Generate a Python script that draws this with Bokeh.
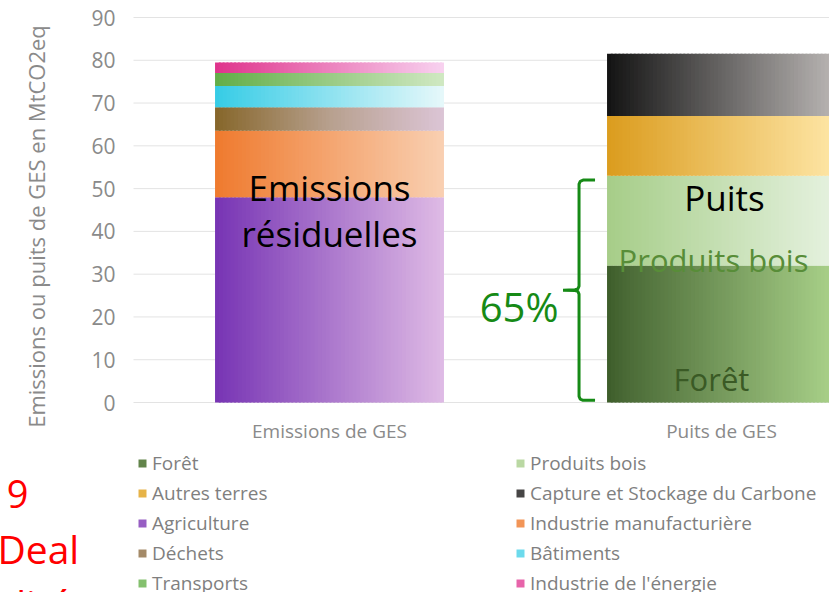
import numpy as np
from bokeh.plotting import figure
from bokeh.models import Range1d, Label, Legend, LegendItem
from bokeh.core.properties import value
from bokeh.embed import file_html
from bokeh.resources import INLINE

# ---------------- data ----------------
categories = ["Emissions de GES", "Puits de GES"]
emission_sectors = ["Agriculture", "Industrie manufacturière", "Déchets",
                    "Bâtiments", "Transports", "Industrie de l'énergie"]
emission_values = [48.0, 15.5, 5.5, 5.0, 3.0, 2.5]
sink_sectors = ["Forêt", "Produits bois", "Autres terres",
                "Capture et Stockage du Carbone"]
sink_values = [32.0, 21.0, 14.0, 14.5]
y_ticks = [0, 10, 20, 30, 40, 50, 60, 70, 80, 90]
y_tick_labels = ["0", "10", "20", "30", "40", "50", "60", "70", "80", "90"]
# legend fills column by column (2 columns x 5 rows)
legend_order = ["Forêt", "Autres terres", "Agriculture", "Déchets", "Transports",
                "Produits bois", "Capture et Stockage du Carbone",
                "Industrie manufacturière", "Bâtiments", "Industrie de l'énergie"]
share_text = "65%"

# ---------------- styles ----------------
grad = {
    "Agriculture": [(0, "#7734b4"), (1, "#dfbbe5")],
    "Industrie manufacturière": [(0, "#ef7a2e"), (1, "#f9d0b2")],
    "Déchets": [(0, "#86662a"), (0.5, "#b7a08e"), (1, "#dcc5d6")],
    "Bâtiments": [(0, "#36cce6"), (1, "#e6f8fa")],
    "Transports": [(0, "#62ae48"), (1, "#d0e8c2")],
    "Industrie de l'énergie": [(0, "#df338b"), (1, "#f8d2f0")],
    "Forêt": [(0, "#3d5d2a"), (0.08, "#4a6a36"), (1, "#aad28a")],
    "Produits bois": [(0, "#a6cd88"), (1, "#e6f2e0")],
    "Autres terres": [(0, "#db9c1e"), (1, "#fee6a6")],
    "Capture et Stockage du Carbone": [(0, "#131313"), (1, "#bab6b4")],
}
FONT = "Open Sans"
GRAY = "#8a8a8a"

W, H = 829, 592
# reference geometry: plot x origin (px) and 1 category = 392 px; y: 0 at 402 px, 90 at 17 px
X0_PX, PX_CAT = 133.0, 392.0
Y0_PX, PX_Y = 402.0, 385.0 / 90.0
BAR_W = 0.584


def px_x(px):
    return (px - X0_PX) / PX_CAT


def px_y(py):
    return (Y0_PX - py) / PX_Y


def hex2rgb(h):
    h = h.lstrip("#")
    return np.array([int(h[i:i + 2], 16) for i in (0, 2, 4)], dtype=float)


def color_at(stops, t):
    for (t0, c0), (t1, c1) in zip(stops[:-1], stops[1:]):
        if t <= t1:
            f = 0 if t1 == t0 else (t - t0) / (t1 - t0)
            c = hex2rgb(c0) * (1 - f) + hex2rgb(c1) * f
            return "#%02x%02x%02x" % tuple(int(round(v)) for v in c)
    return stops[-1][1]


p = figure(width=W, height=H,
           x_range=Range1d(px_x(0), px_x(W)), y_range=Range1d(px_y(H), px_y(0)),
           output_backend="svg", toolbar_location=None,
           x_axis_location=None, y_axis_location=None,
           min_border=0)
p.outline_line_color = None
p.background_fill_color = "white"
p.border_fill_color = "white"
p.xgrid.visible = False
p.ygrid.visible = False

# gridlines from the tick values
p.segment(x0=[px_x(X0_PX)] * len(y_ticks), x1=[px_x(W)] * len(y_ticks),
          y0=y_ticks, y1=y_ticks, line_color="#e3e3e3", line_width=1)

# y tick labels
p.text(x=[px_x(115)] * len(y_ticks), y=y_ticks, text=y_tick_labels,
       text_align="right", text_baseline="middle", text_font=value(FONT),
       text_font_size="21px", text_color=GRAY)

N = 60
renderers = {}


def gradient_bar(name, xc, bottom, top, stops):
    x0 = xc - BAR_W / 2
    step = BAR_W / N
    lefts = x0 + np.arange(N) * step
    rights = lefts + step * 1.5
    rights[-1] = x0 + BAR_W
    cols = [color_at(stops, (i + 0.5) / N) for i in range(N)]
    renderers[name] = p.quad(left=lefts, right=rights, bottom=[bottom] * N,
                             top=[top] * N, fill_color=cols, line_color=None)


cat_pos = [0.5, 1.5]

base = 0.0
for name, v in zip(emission_sectors, emission_values):
    gradient_bar(name, cat_pos[0], base, base + v, grad[name])
    base += v

base = 0.0
for name, v in zip(sink_sectors, sink_values):
    gradient_bar(name, cat_pos[1], base, base + v, grad[name])
    base += v

# category labels
p.text(x=cat_pos, y=[px_y(430)] * 2, text=categories, text_align="center",
       text_baseline="middle", text_font=value(FONT), text_font_size="19px",
       text_color=GRAY)

# y-axis title
p.add_layout(Label(x=px_x(35), y=px_y(226), text="Emissions ou puits de GES en MtCO2eq",
                   angle=np.pi / 2, text_align="center", text_baseline="middle",
                   text_font=FONT, text_font_size="22px", text_color=GRAY))

sink_fb = sink_values[0] + sink_values[1]


def lab(x, y, t, size, color, align="center"):
    p.add_layout(Label(x=x, y=y, text=t, text_align=align, text_baseline="alphabetic",
                       text_font=FONT, text_font_size=size, text_color=color))


# in-bar texts
lab(cat_pos[0], px_y(187), "Emissions", "35px", "black")
lab(cat_pos[0], px_y(233), "résiduelles", "35px", "black")
lab(px_x(724), px_y(197), "Puits", "35px", "black")
lab(px_x(713), px_y(259), "Produits bois", "31px", "#588d38")
lab(px_x(711), px_y(378), "Forêt", "31px", "#3a5a25")
lab(px_x(558), px_y(306), share_text, "40px", "#168a16", "right")

# brace spanning Forêt + Produits bois
bar_left = cat_pos[1] - BAR_W / 2
bx = bar_left - 28 / PX_CAT
hx = bar_left - 12 / PX_CAT
tx = bar_left - 44 / PX_CAT
rx = 4 / PX_CAT
ry = 4 / PX_Y
yb = 0.5
yt = sink_fb - 1.0
ym = (yb + yt) / 2
brace_x = [hx, bx + rx, bx + rx * 0.3, bx, bx, bx - rx * 0.3, bx - rx, tx,
           bx - rx, bx - rx * 0.3, bx, bx, bx + rx * 0.3, bx + rx, hx]
brace_y = [yt, yt, yt - ry * 0.3, yt - ry, ym + ry, ym + ry * 0.3, ym + ry * 0.1, ym,
           ym - ry * 0.1, ym - ry * 0.3, ym - ry, yb + ry, yb + ry * 0.3, yb, yb]
p.line(brace_x, brace_y, line_color="#168a16", line_width=3)

# red slide text fragments
lab(px_x(28), px_y(493), "9", "38px", "#ff0000", "right")
lab(px_x(-3), px_y(548), "Deal", "39px", "#ff0000", "left")
lab(px_x(-6), px_y(603), "alité", "39px", "#ff0000", "left")

# legend (swatch uses a strip about a third across the gradient)
items = [LegendItem(label=name, renderers=[renderers[name]], index=int(N * 0.3))
         for name in legend_order]
legend = Legend(items=items, location=(137, -4), ncols=2,
                label_text_font=FONT, label_text_font_size="19px",
                label_text_color="#7f7f7f", glyph_width=10, glyph_height=10,
                label_standoff=5, label_width=359, label_height=24, spacing=4,
                padding=0, margin=0, border_line_color=None,
                background_fill_alpha=0)
p.add_layout(legend)

open("out.html", "w").write(file_html(p, INLINE))
